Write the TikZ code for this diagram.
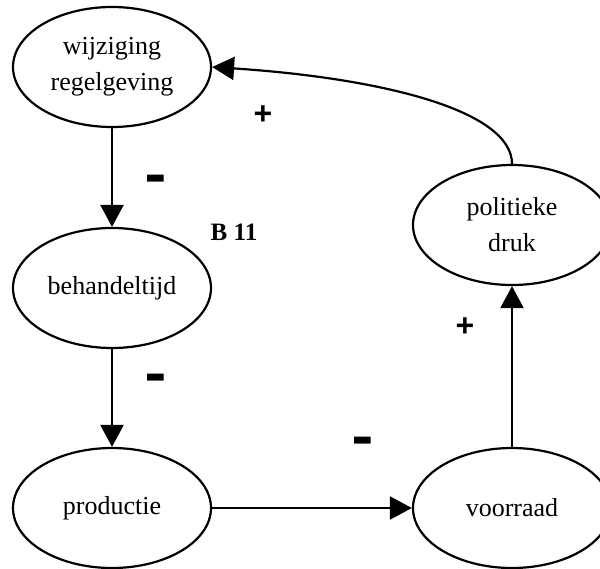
\documentclass[tikz,border=0pt]{standalone}
\usepackage{fontspec}
\setmainfont{Liberation Serif}
\newfontfamily\signfont{Liberation Sans}
\usetikzlibrary{arrows.meta,shapes.geometric}
\begin{document}
\begin{tikzpicture}[x=1pt,y=-1pt,
  var/.style={ellipse,draw,line width=2.2pt,minimum width=198pt,minimum height=120pt,
    inner sep=0pt,align=center,font=\fontsize{26}{36}\selectfont},
  link/.style={line width=2.2pt,-{Triangle[length=22pt,width=23pt]}},
  sign/.style={font=\signfont\bfseries\fontsize{32}{32}\selectfont,inner sep=0pt}]
\useasboundingbox (0,0) rectangle (600,568);
% variables of the loop
\node[var] (wij) at (112,67) {wijziging\\regelgeving};
\node[var] (beh) at (112,288) {behandeltijd};
\node[var] (pro) at (112,508) {productie};
\node[var] (voo) at (512,508) {voorraad};
\node[var] (pol) at (512,225) {politieke\\druk};
% causal links
\draw[link] (wij) -- (beh);
\draw[link] (beh) -- (pro);
\draw[link] (pro) -- (voo);
\draw[link] (voo) -- (pol);
\draw[link] (pol.north) .. controls (512,110) and (380,78) .. (wij.east);
% link polarities
\node[sign] (s1) at (156,186) {\scalebox{1.05}[2.2]{–}};
\node[sign] (s2) at (156,385) {\scalebox{1.05}[2.2]{–}};
\node[sign] (s3) at (363,448) {\scalebox{1.05}[2.2]{–}};
\node[sign] (s4) at (465,327) {+};
\node[sign] (s5) at (263,115) {+};
% loop label
\node[font=\bfseries\fontsize{25}{25}\selectfont,inner sep=0pt] (loop) at (234,232) {B 11};
\end{tikzpicture}
\end{document}
